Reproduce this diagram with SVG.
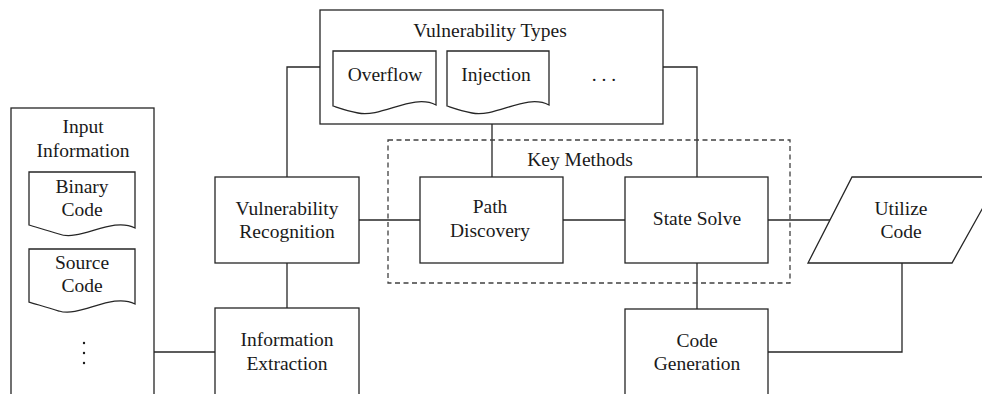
<svg xmlns="http://www.w3.org/2000/svg" width="982" height="394" viewBox="0 0 982 394">
<style>
.s{fill:#fff;stroke:#262626;stroke-width:1.3}
.c{fill:none;stroke:#262626;stroke-width:1.3}
.d{fill:none;stroke:#404040;stroke-width:1.3;stroke-dasharray:5,3.5}
text{font-family:"Liberation Serif","Times New Roman",serif;font-size:19.5px;fill:#1a1a1a;text-anchor:middle}
</style>
<rect width="982" height="394" fill="#fff"/>
<g id="connectors">
<path class="c" d="M154,352H215"/>
<path class="c" d="M287,263V308"/>
<path class="c" d="M287,177V67H320"/>
<path class="c" d="M663,67H697V177"/>
<path class="c" d="M492,124V177"/>
<path class="c" d="M359,220H420"/>
<path class="c" d="M563,220H625"/>
<path class="c" d="M768,220H830"/>
<path class="c" d="M697,263V309"/>
<path class="c" d="M768,352H902V263"/>
</g>
<g id="key-methods">
<rect class="d" x="388" y="140" width="402" height="143"/>
<text x="580" y="166">Key Methods</text>
</g>
<g id="input-information">
<rect class="s" x="11" y="108" width="143" height="300"/>
<text x="83" y="133">Input</text>
<text x="83" y="157">Information</text>
<path class="s" d="M29,172H135V228C112,216 80,242 59,234C45,230 36,227 29,225Z"/>
<text x="82" y="193">Binary</text>
<text x="82" y="216">Code</text>
<path class="s" d="M29,249H135V304C112,292 80,318 59,311C45,307 36,304 29,302Z"/>
<text x="82" y="269">Source</text>
<text x="82" y="292">Code</text>
<circle cx="84" cy="343" r="1.2" fill="#1a1a1a"/>
<circle cx="84" cy="353" r="1.2" fill="#1a1a1a"/>
<circle cx="84" cy="363" r="1.2" fill="#1a1a1a"/>
</g>
<g id="vulnerability-types">
<rect class="s" x="320" y="10" width="343" height="114"/>
<text x="490" y="37">Vulnerability Types</text>
<path class="s" d="M333,51H436V105C413,93 382,118 358,113C347,111 339,108 333,106Z"/>
<text x="385" y="80.5">Overflow</text>
<path class="s" d="M447,51H549V105C526,93 496,118 472,113C461,111 453,108 447,106Z"/>
<text x="496" y="80.5">Injection</text>
<text x="604" y="80.5">. . .</text>
</g>
<g id="vulnerability-recognition">
<rect class="s" x="215" y="177" width="144" height="86"/>
<text x="287" y="215">Vulnerability</text>
<text x="287" y="238">Recognition</text>
</g>
<g id="information-extraction">
<rect class="s" x="215" y="308" width="144" height="100"/>
<text x="287" y="346">Information</text>
<text x="287" y="370">Extraction</text>
</g>
<g id="path-discovery">
<rect class="s" x="420" y="177" width="143" height="86"/>
<text x="490" y="213">Path</text>
<text x="490" y="237">Discovery</text>
</g>
<g id="state-solve">
<rect class="s" x="625" y="177" width="143" height="86"/>
<text x="697" y="225">State Solve</text>
</g>
<g id="utilize-code">
<path class="s" d="M852,177H1000L952,263H808Z"/>
<text x="901" y="215">Utilize</text>
<text x="901" y="238">Code</text>
</g>
<g id="code-generation">
<rect class="s" x="625" y="309" width="143" height="100"/>
<text x="697" y="347">Code</text>
<text x="697" y="370">Generation</text>
</g>
</svg>
